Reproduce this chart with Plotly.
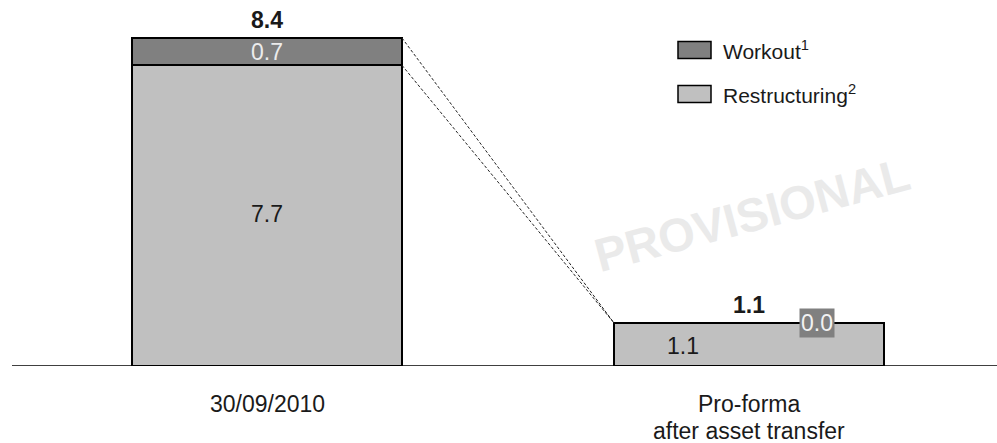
import plotly.graph_objects as go

# Portfolio composition (EUR bn)
categories = ["30/09/2010", "Pro-forma<br>after asset transfer"]
restructuring = [7.7, 1.1]
workout = [0.7, 0.0]
totals = [8.4, 1.1]
series_names = ["Workout<sup>1</sup>", "Restructuring<sup>2</sup>"]

DARK = "#808080"
LIGHT = "#c0c0c0"
FONT = "Arial, Liberation Sans, sans-serif"
TXT = "#1a1a1a"
FS = 23

xs = [0, 1]
bar_w = 0.56
half = bar_w / 2

fig = go.Figure()
fig.add_trace(go.Bar(x=xs, y=restructuring, width=bar_w, marker=dict(color=LIGHT, line=dict(color="black", width=2)),
                     name=series_names[1], hoverinfo="skip"))
fig.add_trace(go.Bar(x=xs, y=workout, width=bar_w, marker=dict(color=DARK, line=dict(color="black", width=2)),
                     name=series_names[0], hoverinfo="skip"))

# dashed connectors between the segment tops of both columns
tops_a = [restructuring[0] + workout[0], restructuring[0]]
tops_b = [restructuring[1] + workout[1], restructuring[1]]
for ya, yb in zip(tops_a, tops_b):
    fig.add_trace(go.Scatter(x=[xs[0] + half, xs[1] - half], y=[ya, yb], mode="lines",
                             line=dict(color="#222222", width=1, dash="3px,2px"),
                             showlegend=False, hoverinfo="skip"))

def font(color=TXT, size=FS):
    return dict(size=size, color=color, family=FONT)

ann = []
# totals above columns
for x, t in zip(xs, totals):
    ann.append(dict(x=x, y=t, xref="x", yref="y", text=f"<b>{t:.1f}</b>", showarrow=False,
                    xanchor="center", yanchor="middle", yshift=18, font=font()))
# first column segment labels
ann.append(dict(x=xs[0], y=restructuring[0] + workout[0] / 2, xref="x", yref="y", text=f"{workout[0]:.1f}",
                showarrow=False, xanchor="center", yanchor="middle", font=font("#ececec")))
ann.append(dict(x=xs[0], y=restructuring[0] / 2, xref="x", yref="y", text=f"{restructuring[0]:.1f}",
                showarrow=False, xanchor="center", yanchor="middle", yshift=2, font=font()))
# second column segment labels
ann.append(dict(x=xs[1], y=restructuring[1] / 2, xref="x", yref="y", text=f"{restructuring[1]:.1f}",
                showarrow=False, xanchor="center", yanchor="middle", xshift=-66, yshift=-1, font=font()))
ann.append(dict(x=xs[1], y=restructuring[1] + workout[1], xref="x", yref="y", text=f"{workout[1]:.1f}",
                showarrow=False, xanchor="center", yanchor="middle", xshift=68, bgcolor=DARK, borderpad=1,
                font=font("#f2f2f2")))
# category labels under the baseline, one annotation per line
for x, c in zip(xs, categories):
    for i, line in enumerate(c.split("<br>")):
        ann.append(dict(x=x, y=0, xref="x", yref="paper", text=line, showarrow=False,
                        xanchor="center", yanchor="middle", yshift=-38 - 26.5 * i, font=font()))

# legend
H, B, PH = 443, 77, 366
legend_rows = [(series_names[0], DARK, 50), (series_names[1], LIGHT, 94)]
shapes = []
for name, col, yc in legend_rows:
    shapes.append(dict(type="rect", xref="paper", yref="paper", x0=678 / 997, x1=711 / 997,
                       y0=(H - (yc - 8.5) - B) / PH, y1=(H - (yc + 8.5) - B) / PH,
                       fillcolor=col, line=dict(color="black", width=1.5)))
    ann.append(dict(x=721 / 997, y=(H - yc - B) / PH, xref="paper", yref="paper", text=name, showarrow=False,
                    xanchor="left", yanchor="middle", font=font(size=21)))

# watermark
ann.append(dict(x=752 / 997, y=(H - 214 - B) / PH, xref="paper", yref="paper", text="<b>PROVISIONAL</b>",
                showarrow=False, xanchor="center", yanchor="middle", textangle=-15,
                font=dict(size=47, color="#eaeaea", family=FONT)))

# baseline
shapes.append(dict(type="line", xref="paper", yref="y", x0=12 / 997, x1=1, y0=0, y1=0,
                   line=dict(color="black", width=1.5)))

fig.update_layout(
    width=997, height=443, barmode="stack", showlegend=False,
    margin=dict(l=0, r=0, t=0, b=B),
    paper_bgcolor="white", plot_bgcolor="white",
    xaxis=dict(range=[-0.554, 1.5145], visible=False, fixedrange=True),
    yaxis=dict(range=[0, PH / 39.05], visible=False, fixedrange=True),
    annotations=ann, shapes=shapes,
)
fig.update_traces(selector=dict(type="bar"), cliponaxis=False)

fig.write_html("out.html")
